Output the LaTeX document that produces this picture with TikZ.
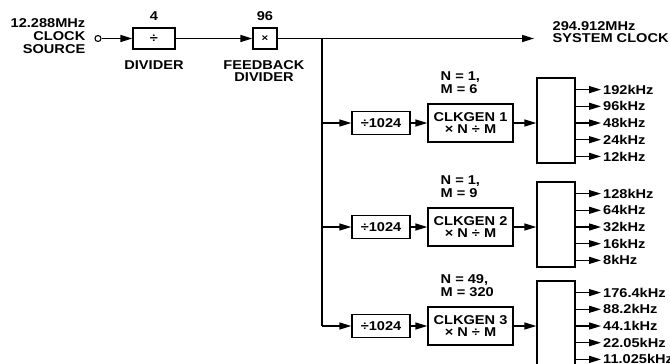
\documentclass[tikz,border=0pt]{standalone}
\usepackage{fontspec}
\setmainfont{Liberation Sans}[FakeStretch=1.14]
\usetikzlibrary{arrows.meta}
\begin{document}
\begin{tikzpicture}[x=1pt,y=-1pt,
  font=\fontsize{12.8}{12.7}\selectfont\bfseries,
  line width=1.4pt,
  >={Triangle[length=12pt,width=7pt]},
  box/.style={draw, line width=1.4pt, inner sep=0pt, align=center},
  lbl/.style={inner sep=0pt, align=center},
  lbll/.style={inner sep=0pt, align=left, anchor=west},
  lblr/.style={inner sep=0pt, align=right, anchor=east}]
\useasboundingbox (0,0) rectangle (670,364);
\clip (0,0) rectangle (670,364);
% top chain
\node[lblr] (src) at (86,36) {12.288MHz\\CLOCK\\SOURCE};
\node[circle, draw, minimum size=6pt, inner sep=0pt, line width=1.1pt] (c) at (98,38.5) {};
\node[box, minimum width=42pt, minimum height=21pt] (div) at (154,38.5) {÷};
\node[lbl] (n4) at (154,16) {4};
\node[lbl] (divl) at (154,65) {DIVIDER};
\node[box, minimum width=24pt, minimum height=21pt] (fb) at (265,38.5) {\fontsize{10}{10}\selectfont×};
\node[lbl] (n96) at (265,16) {96};
\node[lbl] (fbl) at (264,71) {FEEDBACK\\DIVIDER};
\coordinate (j) at (322,38.5);
\coordinate (sysend) at (534,38.5);
\node[lbll] (sys) at (552,32) {294.912MHz\\SYSTEM CLOCK};
\draw[->] (c) -- (div);
\draw[->] (div) -- (fb);
\draw[->] (fb) -- (sysend);
% rows
\foreach \r/\y/\n/\m/\lst in {
  1/123/1/6/{192kHz,96kHz,48kHz,24kHz,12kHz},
  2/227/1/9/{128kHz,64kHz,32kHz,16kHz,8kHz},
  3/326/49/320/{176.4kHz,88.2kHz,44.1kHz,22.05kHz,11.025kHz}}{
  \node[box, minimum width=58pt, minimum height=23pt] (d\r) at (381,\y) {÷1024};
  \node[box, minimum width=85pt, minimum height=38pt] (g\r) at (470.5,\y) {CLKGEN \r\\× N ÷ M};
  \node[lbll] (nm\r) at (440,\y-40.5) {N = \n,\\M = \m};
  \node[box, minimum width=38pt, minimum height=85pt] (o\r) at (556,\y-2.5) {};
  \draw[->] (j |- d\r) -- (d\r);
  \draw[->] (d\r) -- (g\r);
  \draw[->] (g\r) -- (o\r.west |- g\r);
  \foreach \f [count=\k] in \lst {
    \pgfmathsetmacro\yy{\y+(\k-3)*16.7}
    \coordinate (s\r\k) at (575,\yy);
    \coordinate (t\r\k) at (601,\yy);
    \draw[->] (s\r\k) -- (t\r\k);
    \node[lbll] (f\r\k) at (602.5,\yy) {\f};
  }
}
\draw (j) -- (j |- d3);
\end{tikzpicture}
\end{document}
